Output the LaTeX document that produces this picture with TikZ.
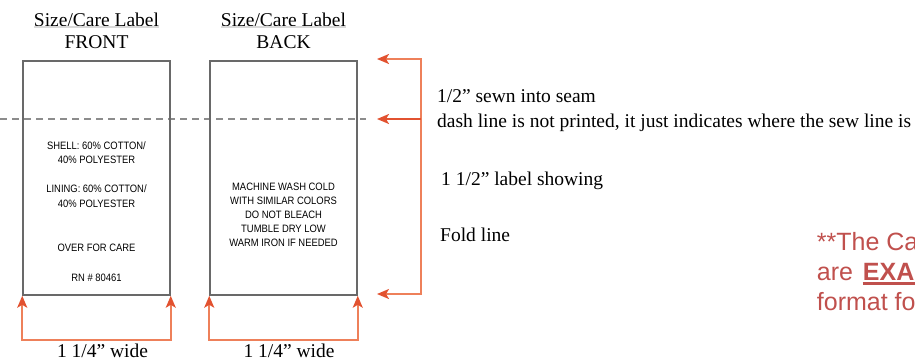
\documentclass[tikz,border=0pt]{standalone}
\usepackage{fontspec}
\setmainfont{Liberation Serif}
\newfontfamily\lblfont[FakeStretch=0.88]{Liberation Sans}
\newfontfamily\notefont{Liberation Sans}
\usetikzlibrary{arrows.meta}
\definecolor{rectgray}{RGB}{105,105,105}
\definecolor{dashgray}{RGB}{140,140,140}
\definecolor{orln}{RGB}{238,128,90}
\definecolor{orhd}{RGB}{226,82,48}
\definecolor{notered}{RGB}{192,80,77}
\tikzset{
  labelbox/.style={draw=rectgray, line width=1.5pt, minimum width=147pt, minimum height=234pt, inner sep=0pt},
  sertext/.style={font=\fontsize{19.5}{22}\selectfont, inner sep=0pt, anchor=base},
  sidetext/.style={sertext, anchor=base west},
  lbltext/.style={font=\lblfont\fontsize{10.7}{13}\selectfont, inner sep=0pt, anchor=base, text=black},
  notetext/.style={font=\notefont\fontsize{25}{30}\selectfont, inner sep=0pt, anchor=base west, text=notered},
  dimboth/.style={draw=orln, line width=2pt, {Stealth[length=12pt,width=10pt,inset=3pt,color=orhd]}-{Stealth[length=12pt,width=10pt,inset=3pt,color=orhd]}},
  dimone/.style={draw=orhd, line width=2pt, -{Stealth[length=12pt,width=10pt,inset=3pt,color=orhd]}},
  sewline/.style={draw=dashgray, line width=2pt, dash pattern=on 7pt off 5pt},
  titleshade/.style={draw=gray!30, line width=2pt},
}
\begin{document}
\begin{tikzpicture}[x=1pt,y=-1pt]
  \clip (0,0) rectangle (915,362);
  \useasboundingbox (0,0) rectangle (915,362);

  % sew line
  \coordinate (sl) at (0,119);
  \coordinate (sr) at (366,119);
  \draw[sewline] (sl) -- (sr);

  % label rectangles
  \node[labelbox] (front) at (96.5,178) {};
  \node[labelbox] (back) at (283.5,178) {};

  % titles
  \node[sertext] (ft1) at (96.5,26) {Size/Care Label};
  \node[sertext] (ft2) at (96.5,48) {FRONT};
  \node[sertext] (bt1) at (283.5,26) {Size/Care Label};
  \node[sertext] (bt2) at (283.5,48) {BACK};
  \draw[titleshade] ([yshift=-1pt]ft1.base west) -- ([yshift=-1pt]ft1.base east);
  \draw[titleshade] ([yshift=-1pt]bt1.base west) -- ([yshift=-1pt]bt1.base east);

  % front label contents
  \node[lbltext] (f1) at (96.5,149) {SHELL: 60\% COTTON/};
  \node[lbltext] (f2) at (96.5,163) {40\% POLYESTER};
  \node[lbltext] (f3) at (96.5,192) {LINING: 60\% COTTON/};
  \node[lbltext] (f4) at (96.5,207) {40\% POLYESTER};
  \node[lbltext] (f5) at (96.5,251) {OVER FOR CARE};
  \node[lbltext] (f6) at (96.5,281) {RN \# 80461};

  % back label contents
  \node[lbltext] (b1) at (283.5,190) {MACHINE WASH COLD};
  \node[lbltext] (b2) at (283.5,204) {WITH SIMILAR COLORS};
  \node[lbltext] (b3) at (283.5,218) {DO NOT BLEACH};
  \node[lbltext] (b4) at (283.5,232) {TUMBLE DRY LOW};
  \node[lbltext] (b5) at (283.5,246) {WARM IRON IF NEEDED};

  % width dimensions
  \draw[dimboth] (front.south west) -- ++(0,44) -| (front.south east);
  \draw[dimboth] (back.south west) -- ++(0,44) -| (back.south east);
  \node[sertext] (fw) at (102.5,357.5) {1 1/4” wide};
  \node[sertext] (bw) at (289,357.5) {1 1/4” wide};

  % right bracket
  \coordinate (rtop) at (421,59);
  \coordinate (rmid) at (421,119);
  \coordinate (rbot) at (421,294);
  \coordinate (ttop) at (377,59);
  \coordinate (tmid) at (377,119);
  \coordinate (tbot) at (377,294);
  \draw[dimboth] (ttop) -- (rtop) -- (rbot) -- (tbot);
  \draw[dimone] (rmid) -- (tmid);

  % side texts
  \node[sidetext] (s1) at (437,102) {1/2” sewn into seam};
  \node[sidetext] (s2) at (437,127) {dash line is not printed, it just indicates where the sew line is};
  \node[sidetext] (s3) at (441,185) {1 1/2” label showing};
  \node[sidetext] (s4) at (440,241.5) {Fold line};

  % red note (cut off at the right edge, as in the reference)
  \node[notetext] (n1) at (816.7,250) {**The Care};
  \node[notetext] (n2) at (816.7,280) {are};
  \node[notetext, font=\notefont\bfseries\fontsize{25}{30}\selectfont] (n2b) at (862.7,280) {EXAMPLES};
  \draw[notered, line width=2.5pt] ([yshift=-3.5pt]n2b.base west) -- ([yshift=-3.5pt]n2b.base east);
  \node[notetext] (n3) at (816.7,310) {format for};
\end{tikzpicture}
\end{document}
